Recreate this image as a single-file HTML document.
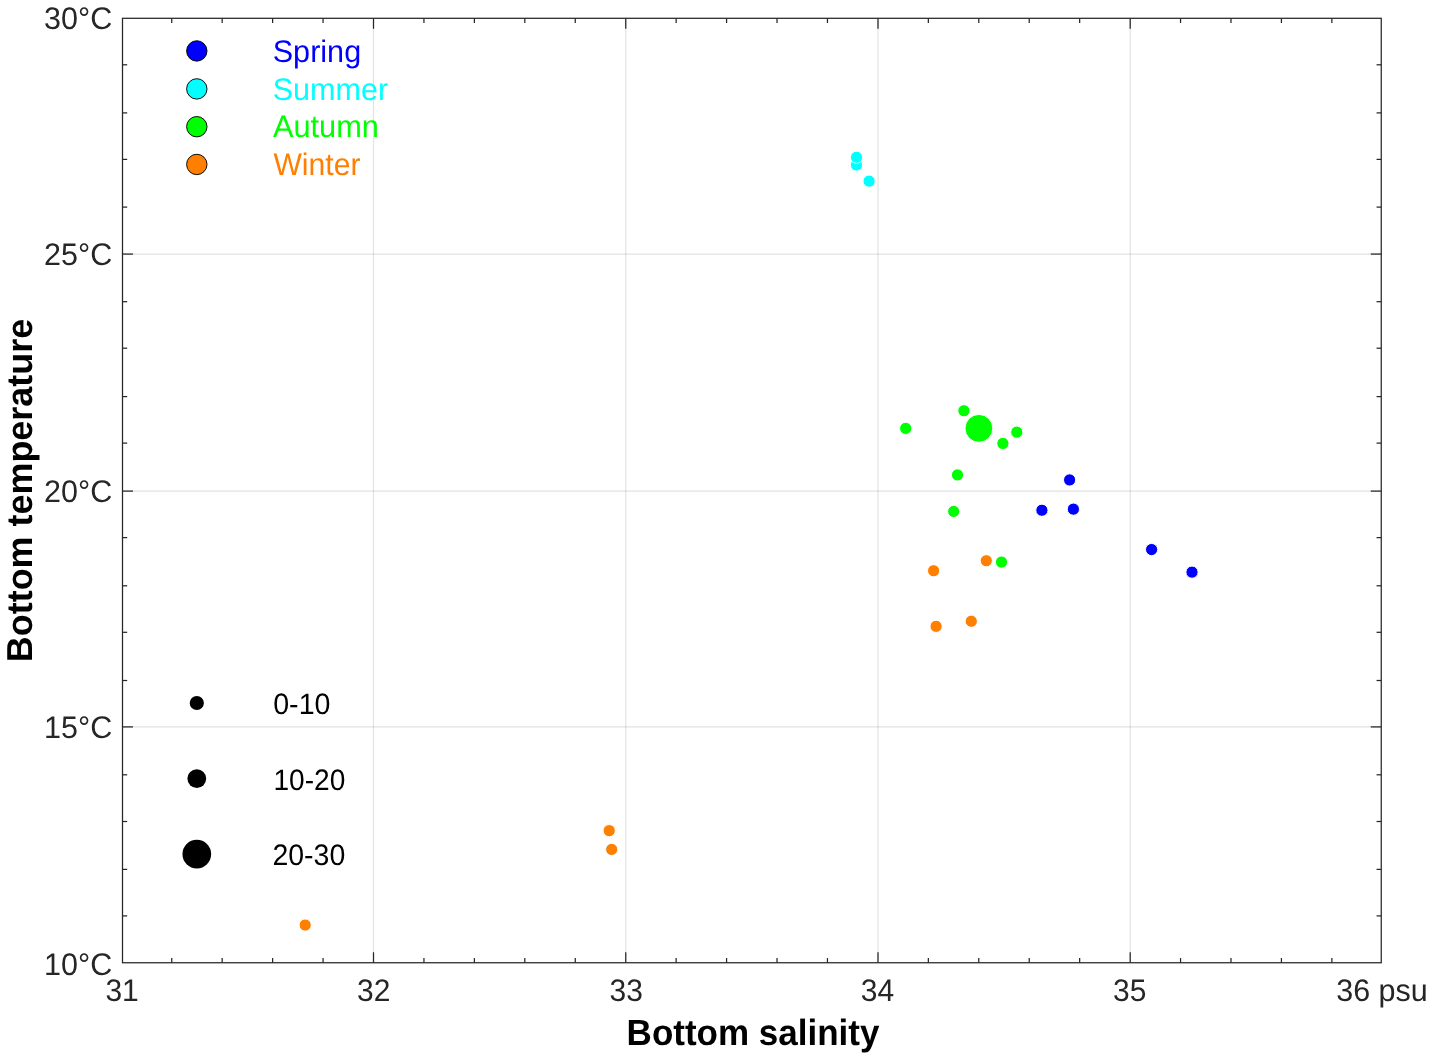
<!DOCTYPE html>
<html><head><meta charset="utf-8"><title>Bottom temperature vs bottom salinity</title>
<style>
html,body{margin:0;padding:0;background:#fff;}
body{width:1433px;height:1059px;overflow:hidden;}
svg{display:block;}
text{font-family:"Liberation Sans",sans-serif;text-rendering:geometricPrecision;}
</style></head><body>
<svg width="1433" height="1059" viewBox="0 0 1433 1059">
<rect x="0" y="0" width="1433" height="1059" fill="#ffffff"/>

<g stroke="#262626" stroke-opacity="0.135" stroke-width="1.15" fill="none">
<line x1="373.5" y1="18.3" x2="373.5" y2="962.75"/>
<line x1="625.75" y1="18.3" x2="625.75" y2="962.75"/>
<line x1="878.0" y1="18.3" x2="878.0" y2="962.75"/>
<line x1="1130.2" y1="18.3" x2="1130.2" y2="962.75"/>
<line x1="122.5" y1="254.07" x2="1381.25" y2="254.07"/>
<line x1="122.5" y1="491.1" x2="1381.25" y2="491.1"/>
<line x1="122.5" y1="726.9" x2="1381.25" y2="726.9"/>
</g>
<g stroke="#262626" stroke-width="1.25" fill="none">
<line x1="171.74" y1="962.75" x2="171.74" y2="958.05"/>
<line x1="171.74" y1="18.3" x2="171.74" y2="23.0"/>
<line x1="222.18" y1="962.75" x2="222.18" y2="958.05"/>
<line x1="222.18" y1="18.3" x2="222.18" y2="23.0"/>
<line x1="272.62" y1="962.75" x2="272.62" y2="958.05"/>
<line x1="272.62" y1="18.3" x2="272.62" y2="23.0"/>
<line x1="323.06" y1="962.75" x2="323.06" y2="958.05"/>
<line x1="323.06" y1="18.3" x2="323.06" y2="23.0"/>
<line x1="373.50" y1="962.75" x2="373.50" y2="952.25"/>
<line x1="373.50" y1="18.3" x2="373.50" y2="28.8"/>
<line x1="423.94" y1="962.75" x2="423.94" y2="958.05"/>
<line x1="423.94" y1="18.3" x2="423.94" y2="23.0"/>
<line x1="474.38" y1="962.75" x2="474.38" y2="958.05"/>
<line x1="474.38" y1="18.3" x2="474.38" y2="23.0"/>
<line x1="524.82" y1="962.75" x2="524.82" y2="958.05"/>
<line x1="524.82" y1="18.3" x2="524.82" y2="23.0"/>
<line x1="575.26" y1="962.75" x2="575.26" y2="958.05"/>
<line x1="575.26" y1="18.3" x2="575.26" y2="23.0"/>
<line x1="625.75" y1="962.75" x2="625.75" y2="952.25"/>
<line x1="625.75" y1="18.3" x2="625.75" y2="28.8"/>
<line x1="676.14" y1="962.75" x2="676.14" y2="958.05"/>
<line x1="676.14" y1="18.3" x2="676.14" y2="23.0"/>
<line x1="726.58" y1="962.75" x2="726.58" y2="958.05"/>
<line x1="726.58" y1="18.3" x2="726.58" y2="23.0"/>
<line x1="777.02" y1="962.75" x2="777.02" y2="958.05"/>
<line x1="777.02" y1="18.3" x2="777.02" y2="23.0"/>
<line x1="827.46" y1="962.75" x2="827.46" y2="958.05"/>
<line x1="827.46" y1="18.3" x2="827.46" y2="23.0"/>
<line x1="878.00" y1="962.75" x2="878.00" y2="952.25"/>
<line x1="878.00" y1="18.3" x2="878.00" y2="28.8"/>
<line x1="928.34" y1="962.75" x2="928.34" y2="958.05"/>
<line x1="928.34" y1="18.3" x2="928.34" y2="23.0"/>
<line x1="978.78" y1="962.75" x2="978.78" y2="958.05"/>
<line x1="978.78" y1="18.3" x2="978.78" y2="23.0"/>
<line x1="1029.22" y1="962.75" x2="1029.22" y2="958.05"/>
<line x1="1029.22" y1="18.3" x2="1029.22" y2="23.0"/>
<line x1="1079.66" y1="962.75" x2="1079.66" y2="958.05"/>
<line x1="1079.66" y1="18.3" x2="1079.66" y2="23.0"/>
<line x1="1130.20" y1="962.75" x2="1130.20" y2="952.25"/>
<line x1="1130.20" y1="18.3" x2="1130.20" y2="28.8"/>
<line x1="1180.54" y1="962.75" x2="1180.54" y2="958.05"/>
<line x1="1180.54" y1="18.3" x2="1180.54" y2="23.0"/>
<line x1="1230.98" y1="962.75" x2="1230.98" y2="958.05"/>
<line x1="1230.98" y1="18.3" x2="1230.98" y2="23.0"/>
<line x1="1281.42" y1="962.75" x2="1281.42" y2="958.05"/>
<line x1="1281.42" y1="18.3" x2="1281.42" y2="23.0"/>
<line x1="1331.86" y1="962.75" x2="1331.86" y2="958.05"/>
<line x1="1331.86" y1="18.3" x2="1331.86" y2="23.0"/>
<line x1="122.5" y1="915.90" x2="127.2" y2="915.90"/>
<line x1="1381.25" y1="915.90" x2="1376.55" y2="915.90"/>
<line x1="122.5" y1="869.40" x2="127.2" y2="869.40"/>
<line x1="1381.25" y1="869.40" x2="1376.55" y2="869.40"/>
<line x1="122.5" y1="821.50" x2="127.2" y2="821.50"/>
<line x1="1381.25" y1="821.50" x2="1376.55" y2="821.50"/>
<line x1="122.5" y1="774.80" x2="127.2" y2="774.80"/>
<line x1="1381.25" y1="774.80" x2="1376.55" y2="774.80"/>
<line x1="122.5" y1="726.90" x2="133.0" y2="726.90"/>
<line x1="1381.25" y1="726.90" x2="1370.75" y2="726.90"/>
<line x1="122.5" y1="680.50" x2="127.2" y2="680.50"/>
<line x1="1381.25" y1="680.50" x2="1376.55" y2="680.50"/>
<line x1="122.5" y1="632.30" x2="127.2" y2="632.30"/>
<line x1="1381.25" y1="632.30" x2="1376.55" y2="632.30"/>
<line x1="122.5" y1="585.80" x2="127.2" y2="585.80"/>
<line x1="1381.25" y1="585.80" x2="1376.55" y2="585.80"/>
<line x1="122.5" y1="537.60" x2="127.2" y2="537.60"/>
<line x1="1381.25" y1="537.60" x2="1376.55" y2="537.60"/>
<line x1="122.5" y1="491.10" x2="133.0" y2="491.10"/>
<line x1="1381.25" y1="491.10" x2="1370.75" y2="491.10"/>
<line x1="122.5" y1="443.10" x2="127.2" y2="443.10"/>
<line x1="1381.25" y1="443.10" x2="1376.55" y2="443.10"/>
<line x1="122.5" y1="396.60" x2="127.2" y2="396.60"/>
<line x1="1381.25" y1="396.60" x2="1376.55" y2="396.60"/>
<line x1="122.5" y1="348.20" x2="127.2" y2="348.20"/>
<line x1="1381.25" y1="348.20" x2="1376.55" y2="348.20"/>
<line x1="122.5" y1="301.70" x2="127.2" y2="301.70"/>
<line x1="1381.25" y1="301.70" x2="1376.55" y2="301.70"/>
<line x1="122.5" y1="254.07" x2="133.0" y2="254.07"/>
<line x1="1381.25" y1="254.07" x2="1370.75" y2="254.07"/>
<line x1="122.5" y1="207.10" x2="127.2" y2="207.10"/>
<line x1="1381.25" y1="207.10" x2="1376.55" y2="207.10"/>
<line x1="122.5" y1="159.40" x2="127.2" y2="159.40"/>
<line x1="1381.25" y1="159.40" x2="1376.55" y2="159.40"/>
<line x1="122.5" y1="112.90" x2="127.2" y2="112.90"/>
<line x1="1381.25" y1="112.90" x2="1376.55" y2="112.90"/>
<line x1="122.5" y1="64.80" x2="127.2" y2="64.80"/>
<line x1="1381.25" y1="64.80" x2="1376.55" y2="64.80"/>
<rect x="122.5" y="18.3" width="1258.75" height="944.45"/>
</g>
<g stroke="#ffffff" stroke-width="1">
<circle cx="856.50" cy="164.95" r="6.1" fill="#00ffff"/>
<circle cx="856.50" cy="157.25" r="6.1" fill="#00ffff"/>
<circle cx="869.10" cy="181.15" r="6.1" fill="#00ffff"/>
<circle cx="905.70" cy="428.35" r="6.1" fill="#00ff00"/>
<circle cx="963.90" cy="410.75" r="6.1" fill="#00ff00"/>
<circle cx="1002.90" cy="443.45" r="6.1" fill="#00ff00"/>
<circle cx="1016.80" cy="432.15" r="6.1" fill="#00ff00"/>
<circle cx="957.50" cy="474.95" r="6.1" fill="#00ff00"/>
<circle cx="953.70" cy="511.45" r="6.1" fill="#00ff00"/>
<circle cx="1001.50" cy="562.05" r="6.1" fill="#00ff00"/>
<circle cx="978.90" cy="428.35" r="13.9" fill="#00ff00"/>
<circle cx="1069.60" cy="479.95" r="6.1" fill="#0000ff"/>
<circle cx="1041.90" cy="510.25" r="6.1" fill="#0000ff"/>
<circle cx="1073.40" cy="509.15" r="6.1" fill="#0000ff"/>
<circle cx="1151.60" cy="549.55" r="6.1" fill="#0000ff"/>
<circle cx="1192.00" cy="572.15" r="6.1" fill="#0000ff"/>
<circle cx="986.30" cy="560.75" r="6.1" fill="#ff8000"/>
<circle cx="933.60" cy="570.75" r="6.1" fill="#ff8000"/>
<circle cx="971.30" cy="621.25" r="6.1" fill="#ff8000"/>
<circle cx="936.10" cy="626.35" r="6.1" fill="#ff8000"/>
<circle cx="609.20" cy="830.65" r="6.1" fill="#ff8000"/>
<circle cx="611.70" cy="849.45" r="6.1" fill="#ff8000"/>
<circle cx="305.20" cy="925.05" r="6.1" fill="#ff8000"/>
</g>
<circle cx="196.8" cy="50.95" r="10.2" fill="#0000ff" stroke="#000000" stroke-width="0.95"/>
<text transform="translate(272.70,61.70) scale(1.02,1.04)" font-size="30" fill="#0000ff">Spring</text>
<circle cx="196.8" cy="88.9" r="10.2" fill="#00ffff" stroke="#000000" stroke-width="0.95"/>
<text transform="translate(272.70,100.00) scale(1.018,1.04)" font-size="30" fill="#00ffff">Summer</text>
<circle cx="196.8" cy="126.7" r="10.2" fill="#00ff00" stroke="#000000" stroke-width="0.95"/>
<text transform="translate(272.90,137.40) scale(1.026,1.04)" font-size="30" fill="#00ff00">Autumn</text>
<circle cx="196.8" cy="164.45" r="10.2" fill="#ff8000" stroke="#000000" stroke-width="0.95"/>
<text transform="translate(273.40,174.80) scale(1.005,1.04)" font-size="30" fill="#ff8000">Winter</text>
<circle cx="196.8" cy="703.0" r="7.1" fill="#000000"/>
<text transform="translate(273.20,713.70) scale(0.987,1.02)" font-size="29" fill="#000000">0-10</text>
<circle cx="196.8" cy="778.6" r="9.4" fill="#000000"/>
<text transform="translate(273.45,789.75) scale(0.969,1.02)" font-size="29" fill="#000000">10-20</text>
<circle cx="196.8" cy="854.1" r="14.35" fill="#000000"/>
<text transform="translate(272.40,865.20) scale(0.982,1.02)" font-size="29" fill="#000000">20-30</text>
<g>
<text transform="translate(112.20,28.90) scale(1.018,1.04)" font-size="30" fill="#262626" text-anchor="end">30°C</text>
<text transform="translate(112.20,264.60) scale(1.018,1.04)" font-size="30" fill="#262626" text-anchor="end">25°C</text>
<text transform="translate(112.20,501.60) scale(1.018,1.04)" font-size="30" fill="#262626" text-anchor="end">20°C</text>
<text transform="translate(112.20,737.60) scale(1.018,1.04)" font-size="30" fill="#262626" text-anchor="end">15°C</text>
<text transform="translate(112.20,974.60) scale(1.018,1.04)" font-size="30" fill="#262626" text-anchor="end">10°C</text>
<text transform="translate(122.10,1001.35) scale(1.0,1.04)" font-size="30" fill="#262626" text-anchor="middle">31</text>
<text transform="translate(373.80,1001.35) scale(1.0,1.04)" font-size="30" fill="#262626" text-anchor="middle">32</text>
<text transform="translate(626.30,1001.35) scale(1.0,1.04)" font-size="30" fill="#262626" text-anchor="middle">33</text>
<text transform="translate(877.45,1001.35) scale(1.0,1.04)" font-size="30" fill="#262626" text-anchor="middle">34</text>
<text transform="translate(1129.65,1001.35) scale(1.0,1.04)" font-size="30" fill="#262626" text-anchor="middle">35</text>
<text transform="translate(1382.00,1001.45) scale(1.017,1.04)" font-size="30" fill="#262626" text-anchor="middle">36 psu</text>
</g>
<text transform="translate(753.00,1045.00) scale(1.0,1.042)" font-size="35" fill="#000" text-anchor="middle" font-weight="bold">Bottom salinity</text>
<text transform="translate(32.40,490.50) rotate(-90) scale(1.0265,1.03)" font-size="35" fill="#000" text-anchor="middle" font-weight="bold">Bottom temperature</text>
</svg></body></html>
